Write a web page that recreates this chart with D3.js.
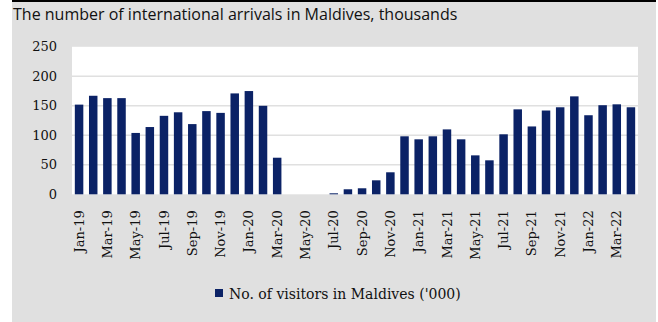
<!DOCTYPE html>
<html>
<head>
<meta charset="utf-8">
<script src="https://cdn.jsdelivr.net/npm/d3@7"></script>
<style>
  html, body { margin: 0; padding: 0; background: #ffffff; }
  svg { display: block; }
</style>
</head>
<body>
<svg id="chart" width="658" height="322"></svg>
<script>
// Monthly international arrivals in the Maldives, thousands
const months = [
  "Jan-19","Feb-19","Mar-19","Apr-19","May-19","Jun-19","Jul-19","Aug-19","Sep-19","Oct-19","Nov-19","Dec-19",
  "Jan-20","Feb-20","Mar-20","Apr-20","May-20","Jun-20","Jul-20","Aug-20","Sep-20","Oct-20","Nov-20","Dec-20",
  "Jan-21","Feb-21","Mar-21","Apr-21","May-21","Jun-21","Jul-21","Aug-21","Sep-21","Oct-21","Nov-21","Dec-21",
  "Jan-22","Feb-22","Mar-22","Apr-22"
];
const visitors = [
  152, 167, 163, 163, 104, 114, 133, 139, 119, 141, 138, 171,
  175, 150, 62, 0, 0, 0, 1.7, 8.5, 10.2, 23.7, 37.3, 98.3,
  93.2, 98.3, 110, 93.2, 66, 57.6, 101.7, 144, 115, 142, 147.5, 166,
  134, 151, 152.5, 147.5
];
const tickLabels = [
  "Jan-19","Mar-19","May-19","Jul-19","Sep-19","Nov-19","Jan-20","Mar-20","May-20","Jul-20",
  "Sep-20","Nov-20","Jan-21","Mar-21","May-21","Jul-21","Sep-21","Nov-21","Jan-22","Mar-22"
];
const yTicks = [0, 50, 100, 150, 200, 250];
const seriesName = "No. of visitors in Maldives ('000)";
const titleText = "The number of international arrivals in Maldives, thousands";

const svg = d3.select("#chart");
const serif = "'DejaVu Serif', serif";
const barColor = "#0b2266";

// panel background and top rule
svg.append("rect").attr("x", 12).attr("y", 0).attr("width", 644).attr("height", 322).attr("fill", "#e0e0e0");
svg.append("rect").attr("x", 12).attr("y", 0).attr("width", 644).attr("height", 2).attr("fill", "#000000");

svg.append("text")
  .attr("x", 13).attr("y", 20)
  .attr("font-family", "'Open Sans', sans-serif")
  .attr("font-size", 16)
  .attr("fill", "#111")
  .text(titleText);

const plot = { left: 72, right: 638, top: 46.8, bottom: 194.3 };

svg.append("rect")
  .attr("x", plot.left).attr("y", plot.top)
  .attr("width", plot.right - plot.left).attr("height", plot.bottom - plot.top)
  .attr("fill", "#ffffff");

const x = d3.scaleBand().domain(months).range([plot.left, plot.right]).paddingInner(0.4).paddingOuter(0.2);
const y = d3.scaleLinear().domain([0, 250]).range([plot.bottom, plot.top]);

// horizontal gridlines
svg.append("g")
  .selectAll("line")
  .data(yTicks.filter(d => d > 0 && d < 250))
  .join("line")
  .attr("x1", plot.left).attr("x2", plot.right)
  .attr("y1", d => y(d)).attr("y2", d => y(d))
  .attr("stroke", "#e0e0e0").attr("stroke-width", 1.5);

// y axis labels
const yAxis = d3.axisLeft(y).tickValues(yTicks).tickSize(0).tickPadding(15);
const gy = svg.append("g").attr("transform", `translate(${plot.left},0)`).call(yAxis);
gy.select(".domain").remove();
gy.selectAll("text")
  .attr("font-family", serif).attr("font-size", 13).attr("fill", "#111");

// bars
svg.append("g")
  .selectAll("rect")
  .data(months.map((m, i) => ({ m, v: visitors[i] })))
  .join("rect")
  .attr("x", d => x(d.m))
  .attr("width", x.bandwidth())
  .attr("y", d => y(d.v))
  .attr("height", d => y(0) - y(d.v))
  .attr("fill", barColor);

// x axis labels, rotated
const xAxis = d3.axisBottom(x).tickValues(tickLabels).tickSize(0).tickPadding(0);
const gx = svg.append("g").attr("transform", `translate(0,${plot.bottom})`).call(xAxis);
gx.select(".domain").remove();
gx.selectAll("text")
  .attr("font-family", serif).attr("font-size", 13).attr("fill", "#111")
  .attr("text-anchor", "end")
  .attr("transform", "rotate(-90)")
  .attr("x", -16)
  .attr("y", 0)
  .attr("dy", "0.35em");

// legend
const legend = svg.append("g").attr("transform", "translate(215,289)");
legend.append("rect").attr("width", 8).attr("height", 8).attr("fill", barColor);
legend.append("text")
  .attr("x", 14).attr("y", 10)
  .attr("font-family", serif).attr("font-size", 14).attr("fill", "#111")
  .text(seriesName);
</script>
</body>
</html>
